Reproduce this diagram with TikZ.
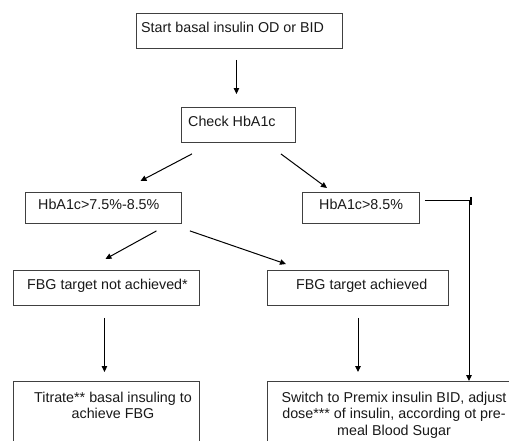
\documentclass[tikz,border=0pt]{standalone}
\usepackage{fontspec}
\setmainfont{Liberation Sans}
\usetikzlibrary{arrows.meta}
\begin{document}
\begin{tikzpicture}[x=1pt,y=-1pt,
  box/.style={draw=black!75, line width=0.9pt, inner sep=0pt, anchor=north west},
  txt/.style={inner sep=0pt, font=\fontsize{14.3}{16.5}\selectfont, text=black!90},
  arr/.style={draw=black, line width=1pt, -{Triangle[width=5.5pt,length=6pt]}}]
\useasboundingbox (0,0) rectangle (509,440);
\fill[white] (0,0) rectangle (509,440);
% boxes
\node[box, minimum width=206pt, minimum height=35pt] (b1) at (136,13) {};
\node[box, minimum width=114pt, minimum height=35pt] (b2) at (181,107) {};
\node[box, minimum width=156pt, minimum height=31pt] (b3) at (25,192) {};
\node[box, minimum width=117pt, minimum height=31pt] (b4) at (302,192) {};
\node[box, minimum width=186pt, minimum height=35pt] (b5) at (13,270) {};
\node[box, minimum width=181pt, minimum height=35pt] (b6) at (267,270) {};
\node[box, minimum width=186pt, minimum height=80pt] (b7) at (13,381) {};
\node[box, minimum width=260pt, minimum height=80pt] (b8) at (267,381) {};
% texts
\node[txt, anchor=base west] (t1) at (141,32) {Start basal insulin OD or BID};
\node[txt, anchor=base west] (t2) at (188,126) {Check HbA1c};
\node[txt, anchor=base west] (t3) at (38,209) {HbA1c>7.5\%-8.5\%};
\node[txt, anchor=base west] (t4) at (319,209) {HbA1c>8.5\%};
\node[txt, anchor=base west] (t5) at (27,289) {FBG target not achieved*};
\node[txt, anchor=base west] (t6) at (296,289) {FBG target achieved};
\node[txt, anchor=north, align=center] (t7) at (113,391.6) {Titrate** basal insuling to\\achieve FBG};
\node[txt, anchor=north, align=center] (t8) at (394,391.6) {Switch to Premix insulin BID, adjust\\dose*** of insulin, according ot pre-\\meal Blood Sugar};
% connectors
\draw[arr] ([shift={(-3,11)}]b1.south) -- ([shift={(-2,-13)}]b2.north);
\draw[arr] ([shift={(11,11)}]b2.south west) -- ([shift={(37,-11)}]b3.north);
\draw[arr] ([shift={(-15,11)}]b2.south east) -- ([shift={(25,-4)}]b4.north west);
\draw[arr] ([shift={(53,7)}]b3.south) -- ([shift={(-1,-11)}]b5.north);
\draw[arr] ([shift={(8,7)}]b3.south east) -- ([shift={(19,-6)}]b6.north west);
\draw[arr] ([shift={(-2,12)}]b5.south) -- ([shift={(-2,-9)}]b7.north);
\draw[arr] ([shift={(91,12)}]b6.south west) -- ([shift={(91,-9)}]b8.north west);
\draw[arr] ([shift={(5,-7.5)}]b4.east) -| ([xshift=202pt]b8.north west);
\draw[line width=1.8pt] ([shift={(51,-11)}]b4.east) -- ([shift={(51,-3)}]b4.east);
\end{tikzpicture}
\end{document}
